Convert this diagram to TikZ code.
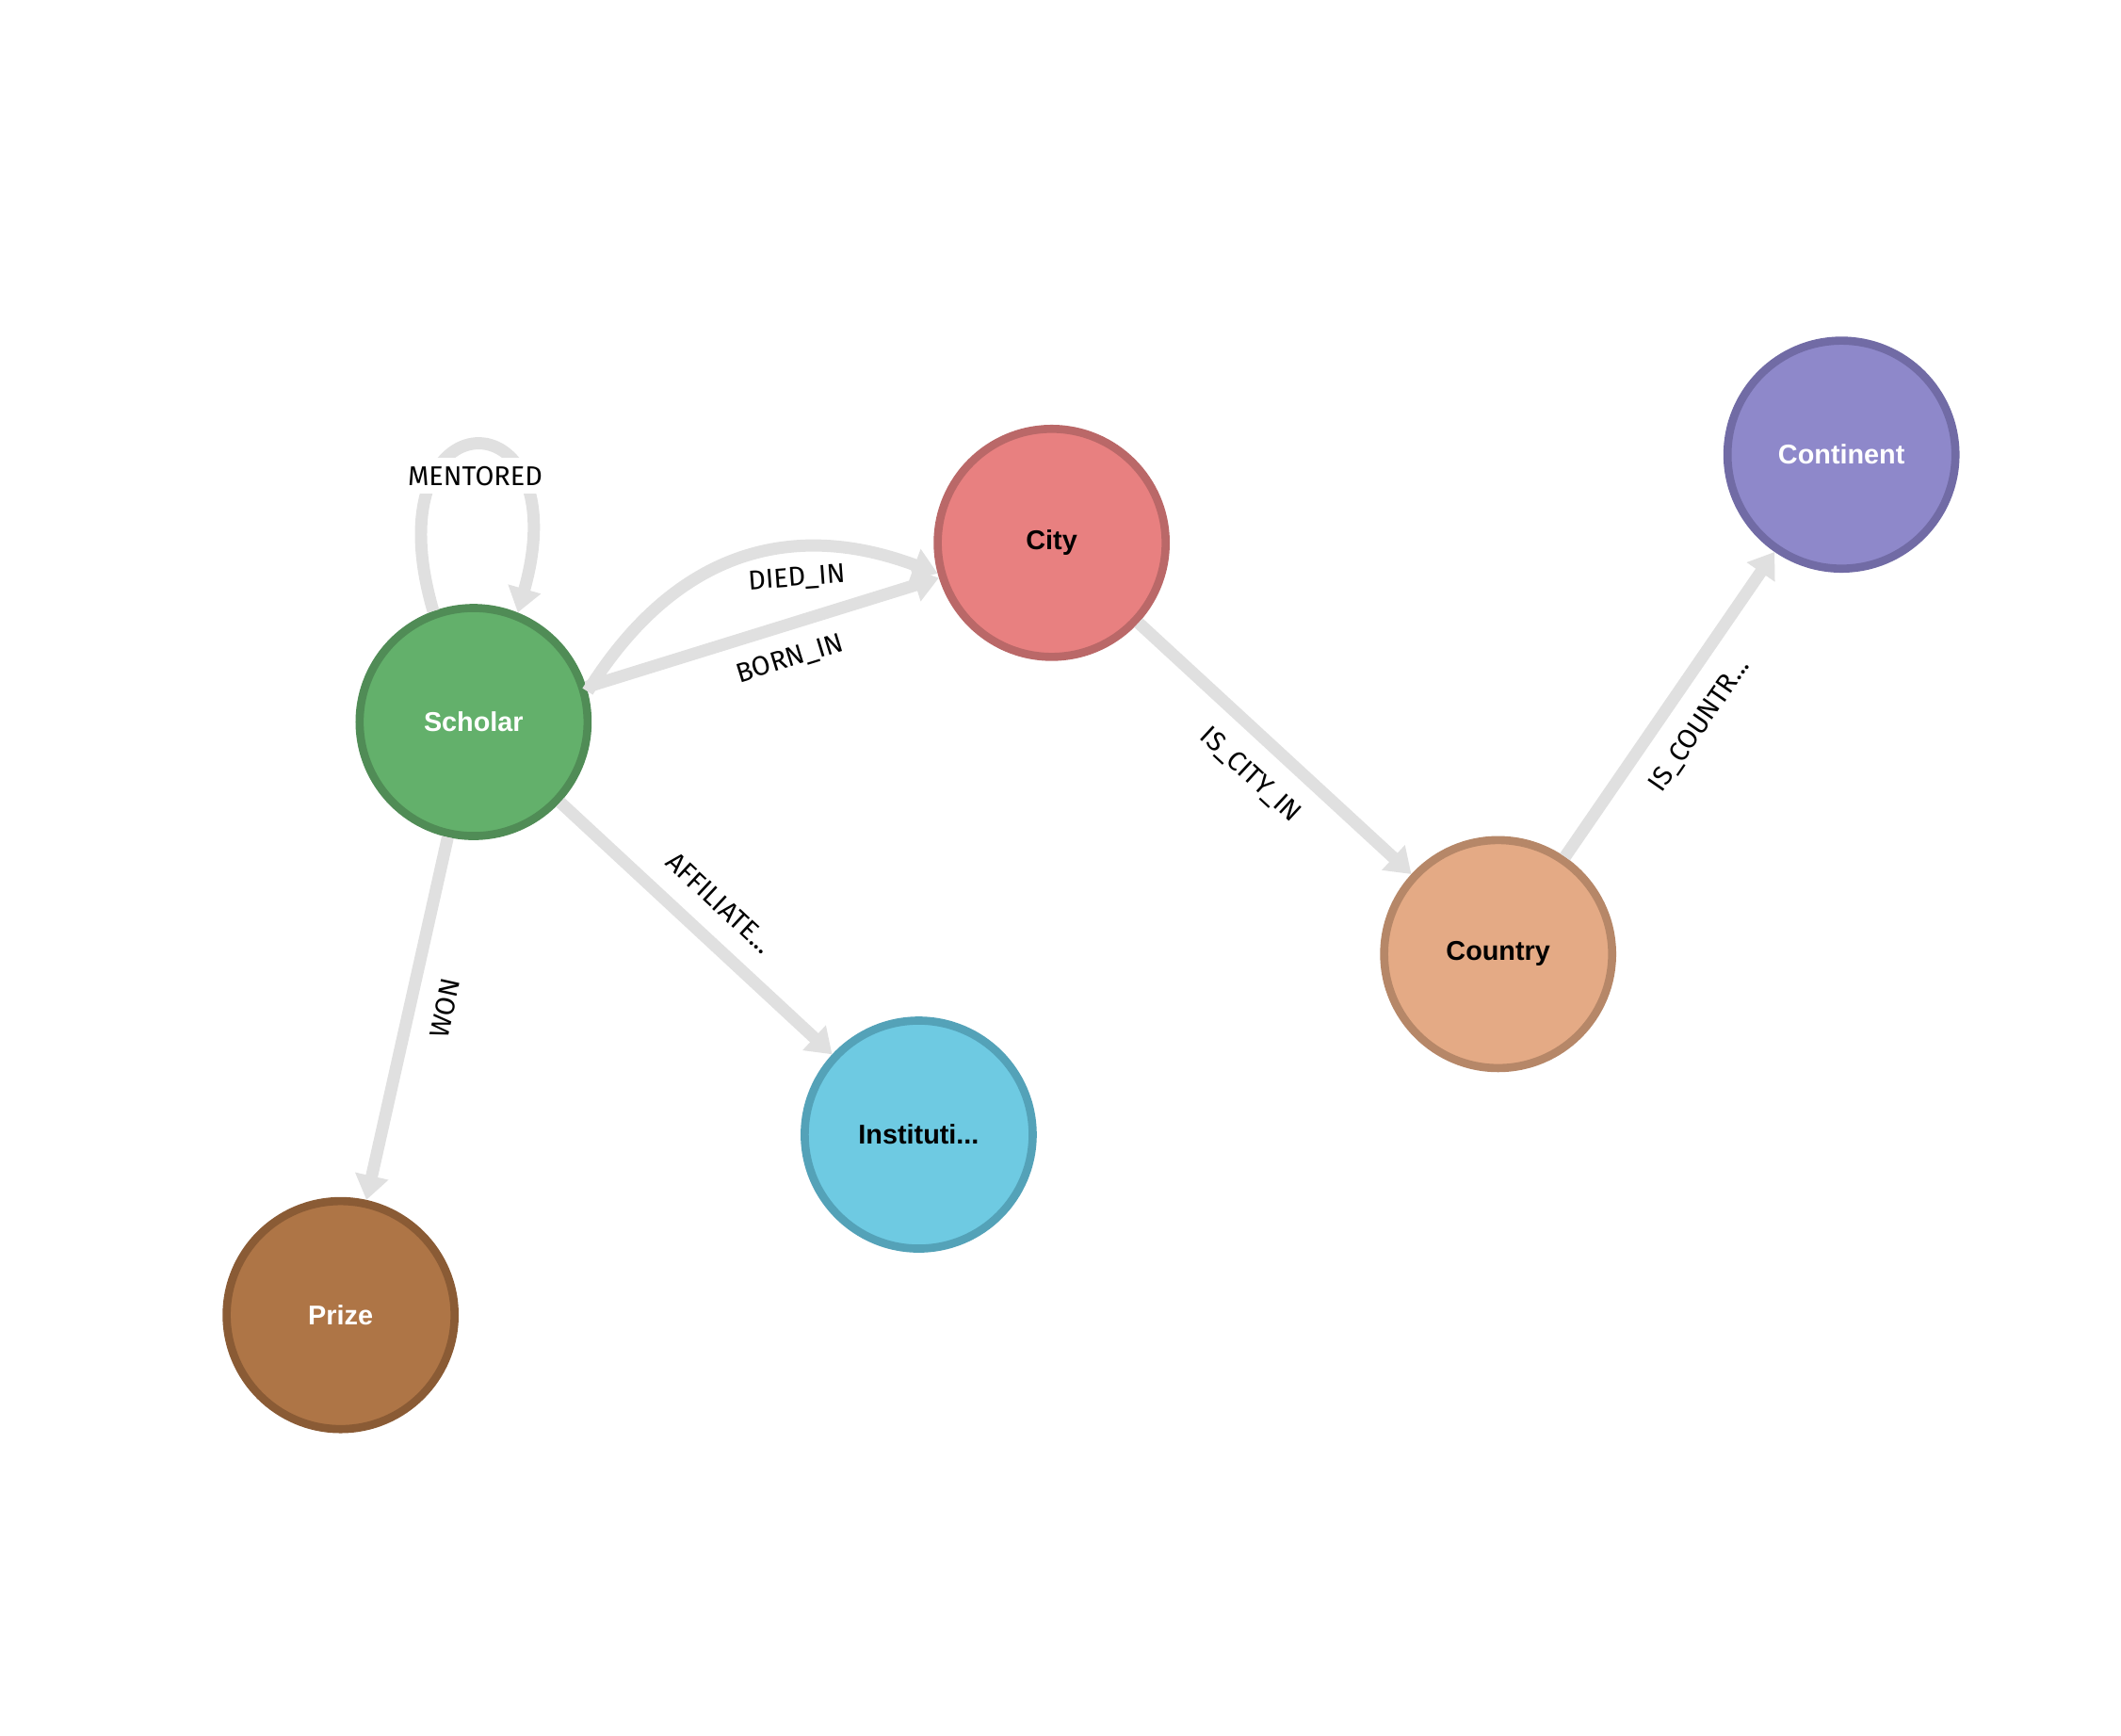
\documentclass[tikz,border=0pt]{standalone}
\usepackage{fontspec}
\setmainfont{Liberation Sans}
\newfontfamily\lblfont{Fira Sans}
\usetikzlibrary{arrows.meta}
\definecolor{edgegray}{HTML}{E0E0E0}
\begin{document}
\begin{tikzpicture}[x=0.5pt,y=-0.5pt,
  gnode/.style={circle,minimum size=84pt,inner sep=0pt,line width=3pt,font=\fontsize{10}{12}\selectfont\bfseries},
  rel/.style={draw=edgegray,line width=4.5pt,-{Triangle[length=9pt,width=12pt]}},
  lbl/.style={font=\lblfont\fontsize{10}{12}\selectfont,text=black,sloped,inner sep=2pt}]
\useasboundingbox (0,0) rectangle (1563,1279);
\node[gnode,fill={rgb,255:red,99;green,176;blue,107},draw={rgb,255:red,80;green,140;blue,86},text=white] (sch) at (349,532) {Scholar};
\node[gnode,fill={rgb,255:red,232;green,128;blue,128},draw={rgb,255:red,186;green,104;blue,104}] (city) at (775,400) {City};
\node[gnode,fill={rgb,255:red,142;green,136;blue,202},draw={rgb,255:red,113;green,107;blue,165},text=white] (cont) at (1357,335) {Continent};
\node[gnode,fill={rgb,255:red,228;green,170;blue,133},draw={rgb,255:red,182;green,135;blue,104}] (ctry) at (1104,703) {Country};
\node[gnode,fill={rgb,255:red,110;green,202;blue,226},draw={rgb,255:red,84;green,162;blue,184}] (inst) at (677,836) {Instituti...};
\node[gnode,fill={rgb,255:red,174;green,117;blue,70},draw={rgb,255:red,138;green,91;blue,53},text=white] (prize) at (251,969) {Prize};
\draw[rel] (sch.110) .. controls (272,288) and (428,288) .. (sch.68)
  node[pos=0.5,yshift=-11pt,fill=white,font=\lblfont\fontsize{10}{12}\selectfont,inner sep=3pt] {MENTORED};
\draw[rel] (sch.15) .. controls (520,370) and (630,400) .. (city.195)
  node[lbl,pos=0.55,below=3pt] {DIED\_IN};
\draw[rel] (sch) -- (city) node[lbl,pos=0.55,below=4pt] {BORN\_IN};
\draw[rel] (city) -- (ctry) node[lbl,pos=0.5,below=5pt] {IS\_CITY\_IN};
\draw[rel] (ctry) -- (cont) node[lbl,pos=0.5,below=5pt] {IS\_COUNTR...};
\draw[rel] (sch) -- (prize) node[lbl,pos=0.45,below=5pt] {WON};
\draw[rel] (sch) -- (inst) node[lbl,pos=0.5,above=5pt] {AFFILIATE...};
\end{tikzpicture}
\end{document}
